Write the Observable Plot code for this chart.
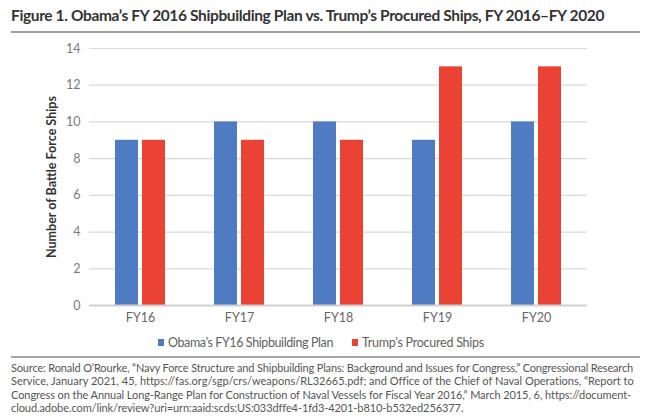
<!DOCTYPE html>
<html>
<head>
<meta charset="utf-8">
<script src="https://cdn.jsdelivr.net/npm/d3@7"></script>
<script src="https://cdn.jsdelivr.net/npm/@observablehq/plot@0.6"></script>
<style>
  html, body { margin: 0; padding: 0; background: #fff; }
  #page { position: relative; width: 648px; height: 418px; overflow: hidden; font-family: Lato, "DejaVu Sans", sans-serif; }
  #chart { position: absolute; left: 0; top: 36px; }
  #overlay { position: absolute; left: 0; top: 0; }
  #chart svg [aria-label="y-axis label"] text { font-weight: 700; fill: #333; font-size: 12.5px; }
</style>
</head>
<body>
<div id="page">
  <div id="chart"></div>
  <svg id="overlay" width="648" height="418"></svg>
</div>
<script>
const years = ["FY16", "FY17", "FY18", "FY19", "FY20"];
const obamaPlan = [9, 10, 10, 9, 10];
const trumpProcured = [9, 9, 9, 13, 13];
const seriesNames = ["Obama’s FY16 Shipbuilding Plan", "Trump’s Procured Ships"];
const seriesColors = ["#4e7bc1", "#ea4335"];
const yTicks = [0, 2, 4, 6, 8, 10, 12, 14];
const titleText = "Figure 1. Obama’s FY 2016 Shipbuilding Plan vs. Trump’s Procured Ships, FY 2016–FY 2020";
const sourceLines = [
  "Source: Ronald O’Rourke, “Navy Force Structure and Shipbuilding Plans: Background and Issues for Congress,” Congressional Research",
  "Service, January 2021, 45, https://fas.org/sgp/crs/weapons/RL32665.pdf; and Office of the Chief of Naval Operations, “Report to",
  "Congress on the Annual Long-Range Plan for Construction of Naval Vessels for Fiscal Year 2016,” March 2015, 6, https://document-",
  "cloud.adobe.com/link/review?uri=urn:aaid:scds:US:033dffe4-1fd3-4201-b810-b532ed256377."
];

const obamaData = years.map((y, i) => ({year: y, series: seriesNames[0], value: obamaPlan[i]}));
const trumpData = years.map((y, i) => ({year: y, series: seriesNames[1], value: trumpProcured[i]}));

const chart = Plot.plot({
  width: 648,
  height: 300,
  marginLeft: 89,
  marginRight: 61,
  marginTop: 12,
  marginBottom: 31,
  style: {fontFamily: "Lato, sans-serif", fontSize: "12.5px", color: "#7a7a7a", background: "transparent"},
  x: {domain: years, paddingInner: 0.5, paddingOuter: 0.25, label: null},
  y: {domain: [0, 14], ticks: yTicks, label: null},
  color: {domain: seriesNames, range: seriesColors},
  marks: [
    Plot.ruleY(yTicks.filter(d => d > 0), {stroke: "#d9d9d9", strokeWidth: 1.2}),
    Plot.barY(obamaData, {x: "year", y: "value", fill: "series", insetRight: 27}),
    Plot.barY(trumpData, {x: "year", y: "value", fill: "series", insetLeft: 27}),
    Plot.ruleY([0], {stroke: "#d0d0d0", strokeWidth: 2}),
    Plot.axisY({ticks: yTicks, tickSize: 0, tickPadding: 9, label: "Number of Battle Force Ships", labelAnchor: "center", labelOffset: 42, labelArrow: "none", fill: "#7a7a7a"}),
    Plot.axisX({tickSize: 0, tickPadding: 8, label: null, fill: "#666"})
  ]
});
document.getElementById("chart").appendChild(chart);

const ov = d3.select("#overlay");

// fit a text to a target width with letter-spacing (no glyph squeezing)
function fitText(sel, target) {
  const node = sel.node();
  const n = sel.text().length;
  const natural = node.getComputedTextLength();
  const ls = (target - natural) / n;
  sel.attr("letter-spacing", ls.toFixed(3) + "px");
}

// Title and rule
const title = ov.append("text").attr("x", 11).attr("y", 21)
  .attr("font-family", "Lato").attr("font-weight", 700).attr("font-size", 15.5).attr("fill", "#333")
  .text(titleText);
fitText(title, 593);
ov.append("line").attr("x1", 11).attr("x2", 640).attr("y1", 32).attr("y2", 32).attr("stroke", "#444").attr("stroke-width", 1.2);

// Legend
const legendItems = [
  {name: seriesNames[0], color: seriesColors[0], sx: 158, tx: 168, tw: 165},
  {name: seriesNames[1], color: seriesColors[1], sx: 352, tx: 362, tw: 122}
];
legendItems.forEach(it => {
  ov.append("rect").attr("x", it.sx).attr("y", 339).attr("width", 6).attr("height", 7).attr("fill", it.color);
  const t = ov.append("text").attr("x", it.tx).attr("y", 346.5)
    .attr("font-family", "Lato").attr("font-size", 12.5).attr("fill", "#5f5f5f")
    .text(it.name);
  fitText(t, it.tw);
});
ov.append("line").attr("x1", 11).attr("x2", 640).attr("y1", 357).attr("y2", 357).attr("stroke", "#8a8a8a").attr("stroke-width", 1.5);

// Source
const lineW = [622, 622, 620, 452];
sourceLines.forEach((t, i) => {
  const s = ov.append("text").attr("x", 11).attr("y", 372 + i * 13.3)
    .attr("font-family", "Lato").attr("font-size", 11).attr("fill", "#555")
    .text(t);
  fitText(s, lineW[i]);
});
</script>
</body>
</html>
